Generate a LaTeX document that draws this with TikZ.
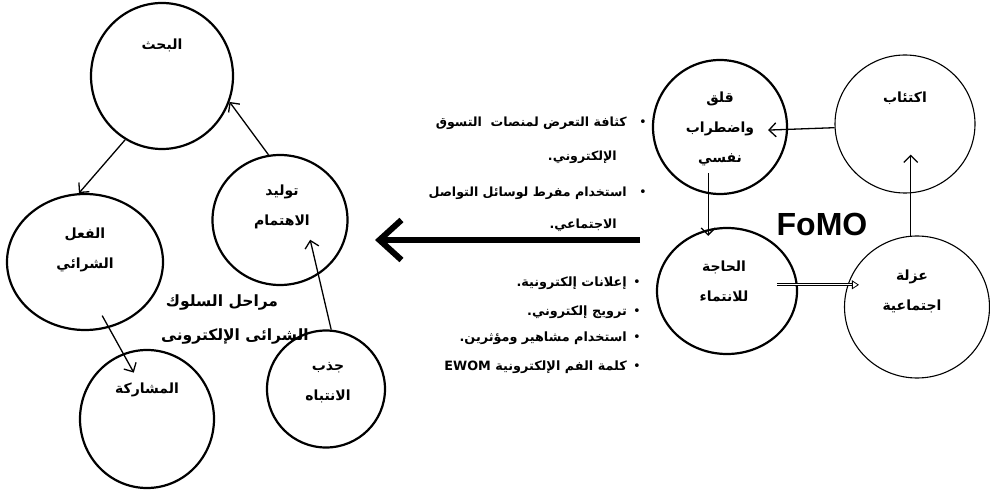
\documentclass[tikz,border=0pt]{standalone}
\usepackage{fontspec}
\newfontfamily\arabicfont[Script=Arabic]{DejaVu Sans}
\newfontfamily\fomofont{Liberation Sans}
\TeXXeTstate=1
\newcommand{\rtl}[1]{\beginR#1\endR}
\usetikzlibrary{positioning,arrows.meta,shapes.geometric}
\tikzset{
  node-stage/.style={draw=black,line width=2.2pt,ellipse,inner sep=0pt},
  node-thin/.style={line width=1.1pt},
  txt-stage/.style={font=\arabicfont\bfseries\fontsize{14}{30}\selectfont,
    align=center,inner sep=0pt},
  txt-list/.style={font=\arabicfont\bfseries\fontsize{12.6}{14}\selectfont,
    anchor=east,inner sep=0pt},
  txt-list-big/.style={font=\arabicfont\bfseries\fontsize{12.8}{15}\selectfont,
    anchor=east,inner sep=0pt},
  txt-title/.style={font=\arabicfont\bfseries\fontsize{15.5}{18}\selectfont,
    inner sep=0pt},
  bullet/.style={font=\arabicfont\fontsize{13}{15}\selectfont,inner sep=0pt},
  arrow/.style={-{Straight Barb[length=7pt,width=14pt]},line width=1.3pt},
  arrow-double/.style={-{Triangle[open,length=7pt,width=9pt]},double,
    double distance=1.3pt,line width=0.8pt},
  arrow-big/.style={-{Straight Barb[length=22pt,width=40pt]},line width=6pt},
}
\begin{document}
\begin{tikzpicture}[x=1pt,y=-1pt]
  \useasboundingbox (0,0) rectangle (990,494);
  % purchase stages (left)
  \node[node-stage,minimum width=142pt,minimum height=146pt] (bahth) at (162,76) {};
  \node[node-stage,minimum width=135pt,minimum height=130pt] (tawlid) at (280,220) {};
  \node[node-stage,minimum width=156pt,minimum height=136pt] (fel) at (85,262) {};
  \node[node-stage,minimum width=134pt,minimum height=138pt] (musharaka) at (147,419) {};
  \node[node-stage,minimum width=118pt,minimum height=117pt] (jadhb) at (326,389) {};
  \node[txt-stage] (bahth-txt) at (162,45) {\rtl{البحث}};
  \node[txt-stage] (tawlid-txt) at (282,207) {\rtl{توليد}\\\rtl{الاهتمام}};
  \node[txt-stage] (fel-txt) at (85,250) {\rtl{الفعل}\\\rtl{الشرائي}};
  \node[txt-stage] (musharaka-txt) at (147,390) {\rtl{المشاركة}};
  \node[txt-stage] (jadhb-txt) at (328,383) {\rtl{جذب}\\\rtl{الانتباه}};
  \node[txt-title] (title-1) at (222,303) {\rtl{مراحل السلوك}};
  \node[txt-title] (title-2) at (235,337) {\rtl{الشرائى الإلكترونى}};
  \draw[arrow] (bahth.240) -- (fel.95);
  \draw[arrow] (tawlid.100) -- (bahth.339);
  \draw[arrow,shorten <=-14pt,shorten >=-22pt] (fel.290) -- (musharaka.110);
  \draw[arrow,shorten >=-36pt] (jadhb.85) -- (tawlid.305);
  % FoMO cycle (right)
  \node[node-stage,minimum width=134pt,minimum height=134pt] (qalaq) at (720,127) {};
  \node[node-stage,node-thin,minimum width=140pt,minimum height=138pt] (iktiab) at (905,124) {};
  \node[node-stage,minimum width=140pt,minimum height=126pt] (haja) at (727,291) {};
  \node[node-stage,node-thin,minimum width=145pt,minimum height=142pt] (uzla) at (917,307) {};
  \node[txt-stage] (qalaq-txt) at (720,129) {\rtl{قلق}\\\rtl{واضطراب}\\\rtl{نفسي}};
  \node[txt-stage] (iktiab-txt) at (905,98) {\rtl{اكتئاب}};
  \node[txt-stage] (haja-txt) at (724,281) {\rtl{الحاجة}\\\rtl{للانتماء}};
  \node[txt-stage] (uzla-txt) at (912,291) {\rtl{عزلة}\\\rtl{اجتماعية}};
  \node[font=\fomofont\bfseries\fontsize{32}{34}\selectfont,inner sep=0pt] (fomo) at (822,224) {FoMO};
  \draw[arrow,shorten >=-20pt] (iktiab.183) -- (qalaq.358);
  \draw[arrow,shorten <=-21pt,shorten >=-9pt] (qalaq.260) -- (qalaq.260 |- haja.north);
  \draw[arrow-double,shorten <=-21pt,shorten >=-15pt] (haja.5) -- (haja.5 -| uzla.west);
  \draw[arrow,shorten >=-39pt] (uzla.95) -- (uzla.95 |- iktiab.south);
  % causes
  \node[bullet] (b-1) at (643,123) {•};
  \node[txt-list] (c-1a) at (627,123) {\rtl{كثافة التعرض لمنصات \ التسوق}};
  \node[txt-list] (c-1b) at (617,157) {\rtl{الإلكتروني.}};
  \node[bullet] (b-2) at (643,193) {•};
  \node[txt-list] (c-2a) at (627,193) {\rtl{استخدام مفرط لوسائل التواصل}};
  \node[txt-list] (c-2b) at (617,225) {\rtl{الاجتماعي.}};
  % marketing stimuli
  \node[bullet] (b-3) at (637,283) {•};
  \node[txt-list-big] (s-1) at (627,283) {\rtl{إعلانات إلكترونية.}};
  \node[bullet] (b-4) at (637,312) {•};
  \node[txt-list-big] (s-2) at (627,312) {\rtl{ترويج إلكتروني.}};
  \node[bullet] (b-5) at (637,338) {•};
  \node[txt-list-big] (s-3) at (627,338) {\rtl{استخدام مشاهير ومؤثرين.}};
  \node[bullet] (b-6) at (637,367) {•};
  \node[txt-list-big] (s-4) at (627,367) {\rtl{كلمة الفم الإلكترونية \beginL EWOM\endL{}}};
  \coordinate (fomo-side) at (640,240);
  \coordinate (stage-side) at (375,240);
  \draw[arrow-big] (fomo-side) -- (stage-side);
\end{tikzpicture}
\end{document}
